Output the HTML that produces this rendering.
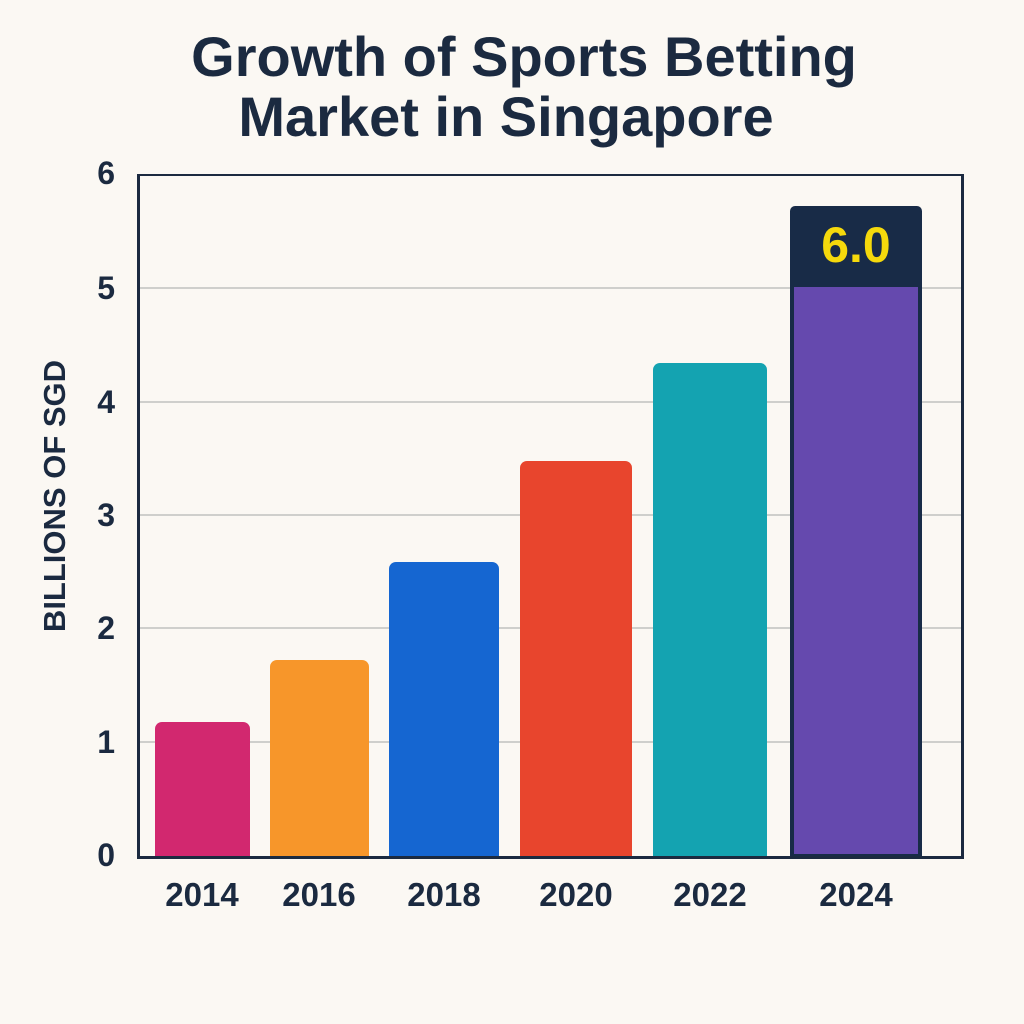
<!DOCTYPE html>
<html><head><style>
body{margin:0;width:1024px;height:1024px;background:#FBF8F3;position:relative;overflow:hidden;font-family:"Liberation Sans",sans-serif;color:#1B2A40}
div{position:absolute;white-space:nowrap}
.t{left:0;width:1024px;text-align:center;font-weight:bold;font-size:56px;color:#1B2A40}
.g{left:140px;width:822px;height:2px;background:#CFCFCC}
.y{width:40px;text-align:right;font-size:32px;font-weight:bold;left:75px}
.x{font-size:33px;font-weight:bold;width:140px;text-align:center;top:876px}
.b{border-radius:7px 7px 0 0;bottom:168px}
</style></head><body>
<div class="t" style="top:24px;left:12px">Growth of Sports Betting</div>
<div class="t" style="top:84px;left:-6px">Market in Singapore</div>
<div class="g" style="top:287px"></div>
<div class="g" style="top:401px"></div>
<div class="g" style="top:514px"></div>
<div class="g" style="top:627px"></div>
<div class="g" style="top:741px"></div>
<div style="left:137px;top:174px;width:821px;height:680px;border:3px solid #1B2A40;border-top:2px solid #1B2A40"></div>
<div class="y" style="top:155px">6</div>
<div class="y" style="top:270px">5</div>
<div class="y" style="top:384px">4</div>
<div class="y" style="top:497px">3</div>
<div class="y" style="top:610px">2</div>
<div class="y" style="top:724px">1</div>
<div class="y" style="top:837px">0</div>
<div style="left:-95px;top:478px;width:300px;text-align:center;transform:rotate(-90deg);font-size:31px;font-weight:bold">BILLIONS OF SGD</div>
<div class="b" style="left:155px;width:95px;top:722px;background:#D2286F"></div>
<div class="b" style="left:270px;width:99px;top:660px;background:#F7962A"></div>
<div class="b" style="left:389px;width:110px;top:562px;background:#1566D1"></div>
<div class="b" style="left:520px;width:112px;top:461px;background:#E8452D"></div>
<div class="b" style="left:653px;width:114px;top:363px;background:#14A3B1"></div>
<div style="left:790px;width:132px;top:206px;height:650px;background:#182B47;border-radius:5px 5px 0 0"></div>
<div style="left:794px;width:124px;top:287px;height:567px;background:#6549AE"></div>
<div style="left:790px;width:132px;top:216px;text-align:center;font-size:50px;font-weight:bold;color:#F5D90C">6.0</div>
<div class="x" style="left:132px">2014</div>
<div class="x" style="left:249px">2016</div>
<div class="x" style="left:374px">2018</div>
<div class="x" style="left:506px">2020</div>
<div class="x" style="left:640px">2022</div>
<div class="x" style="left:786px">2024</div>
</body></html>
